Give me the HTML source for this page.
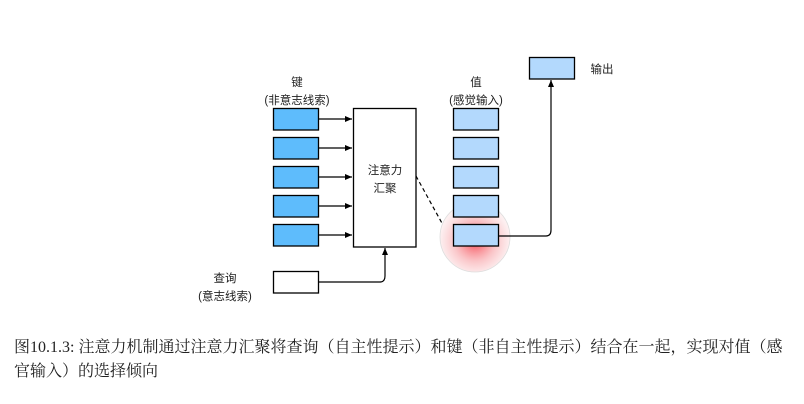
<!DOCTYPE html>
<html><head><meta charset="utf-8"><style>
body{margin:0;background:#fff;width:804px;height:404px;overflow:hidden;font-family:"Liberation Sans","Noto Sans CJK SC",sans-serif;}
.cap{position:absolute;left:14px;top:336px;width:778px;font-size:16px;line-height:24px;color:#222;font-family:"Liberation Serif","Noto Serif CJK SC",serif;}
</style></head><body>
<svg width="804" height="404" style="position:absolute;left:0;top:0" font-family="Liberation Sans, Noto Sans CJK SC, sans-serif" font-size="11.5">
<defs>
<radialGradient id="g" cx="0.5" cy="0.55" r="0.5">
<stop offset="0" stop-color="#f5333f" stop-opacity="0.9"/>
<stop offset="0.6" stop-color="#f7a0a5" stop-opacity="0.6"/>
<stop offset="1" stop-color="#fbe0e2" stop-opacity="0.5"/>
</radialGradient>
<marker id="a" markerWidth="8" markerHeight="8" refX="7" refY="4" orient="auto" markerUnits="userSpaceOnUse"><path d="M0,1 L7,4 L0,7 z" fill="#000"/></marker>
</defs>
<circle cx="475" cy="237" r="35" fill="url(#g)" stroke="#ddd" stroke-width="0.8"/>
<g stroke="#000" stroke-width="1.3" fill="#5ebcfc">
<rect x="273.5" y="108.5" width="45" height="21.5"/>
<rect x="273.5" y="137.5" width="45" height="21.5"/>
<rect x="273.5" y="166.5" width="45" height="21.5"/>
<rect x="273.5" y="195.5" width="45" height="21.5"/>
<rect x="273.5" y="224.5" width="45" height="21.5"/>
</g>
<g stroke="#000" stroke-width="1.3" fill="#b3d9fd">
<rect x="453.5" y="108.5" width="45" height="21.5"/>
<rect x="453.5" y="137.5" width="45" height="21.5"/>
<rect x="453.5" y="166.5" width="45" height="21.5"/>
<rect x="453.5" y="195.5" width="45" height="21.5"/>
<rect x="453.5" y="224.5" width="45" height="21.5"/>
<rect x="529.5" y="57.5" width="45" height="21.5"/>
</g>
<rect x="273.5" y="271.5" width="45" height="21.5" fill="#fff" stroke="#000" stroke-width="1.3"/>
<rect x="353.5" y="108.5" width="62.5" height="138.5" fill="#fff" stroke="#000" stroke-width="1.3"/>
<g stroke="#000" stroke-width="1.2" fill="none" marker-end="url(#a)">
<line x1="319" y1="119" x2="352" y2="119"/>
<line x1="319" y1="148" x2="352" y2="148"/>
<line x1="319" y1="177" x2="352" y2="177"/>
<line x1="319" y1="206" x2="352" y2="206"/>
<line x1="319" y1="235" x2="352" y2="235"/>
<path d="M319,282 L380,282 Q385,282 385,276 L385,248"/>
<path d="M499,236 L546,236 Q551,236 551,230 L551,80"/>
</g>
<line x1="416" y1="176" x2="443" y2="225" stroke="#000" stroke-width="1.2" stroke-dasharray="4,3"/>
<g text-anchor="middle" fill="#222">
<text x="297" y="86">键</text>
<text x="297" y="104">(非意志线索)</text>
<text x="476" y="86">值</text>
<text x="476" y="104">(感觉输入)</text>
<text x="385" y="174">注意力</text>
<text x="385" y="192">汇聚</text>
<text x="225" y="282">查询</text>
<text x="225" y="300">(意志线索)</text>
<text x="602" y="73">输出</text>
</g>
</svg>
<div class="cap">图10.1.3: 注意力机制通过注意力汇聚将查询（自主性提示）和键（非自主性提示）结合在一起，实现对值（感官输入）的选择倾向</div>
</body></html>
